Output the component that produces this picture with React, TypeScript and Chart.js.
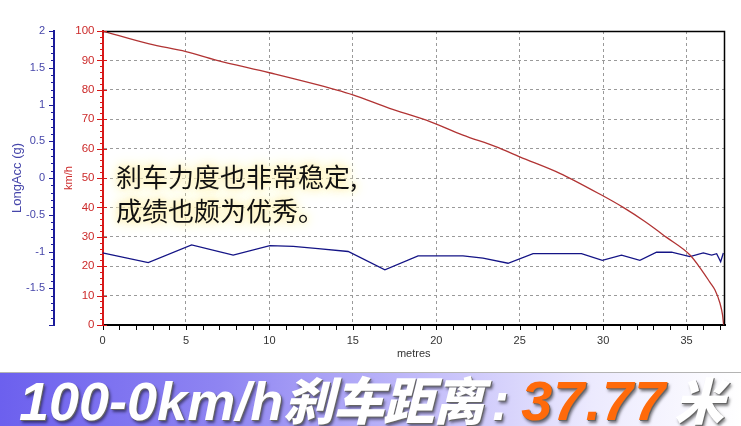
import React, { useEffect, useRef } from 'react';
import { Chart, registerables } from 'chart.js';

Chart.register(...registerables);

// ---- data ----
const distSpeed = [0, 2.8, 5, 6.8, 10, 14, 15, 17.2, 19.4, 21.6, 23.6, 25, 27.4, 29.9, 31.2, 32.5, 33.8, 35.2, 35.9, 36.4, 36.7, 37.0, 37.15, 37.22];
const speedKmh = [100, 95.6, 93, 90.1, 85.8, 80, 78.3, 73.7, 69.7, 64.6, 60.6, 57.2, 51.6, 44.2, 40, 35.2, 29.8, 23.8, 18.7, 14.5, 11.9, 7.4, 3.5, 0];

const distAcc = [0, 2.74, 5.34, 7.83, 10.03, 11.43, 12.92, 14.72, 16.92, 18.91, 21.6, 22.8, 24.3, 25.8, 28.7, 29.95, 31.1, 32.2, 33.2, 34.1, 35.2, 36.0, 36.5, 36.8, 37.04, 37.2];
const accG = [-1.02, -1.15, -0.91, -1.05, -0.92, -0.93, -0.96, -1.0, -1.25, -1.06, -1.06, -1.09, -1.16, -1.03, -1.03, -1.12, -1.05, -1.12, -1.01, -1.01, -1.07, -1.02, -1.05, -1.03, -1.14, -1.02];

const xTicks = [0, 5, 10, 15, 20, 25, 30, 35];
const xMax = 37.3;
const speedTicks = [0, 10, 20, 30, 40, 50, 60, 70, 80, 90, 100];
const accTicks = [-2, -1.5, -1, -0.5, 0, 0.5, 1, 1.5, 2];
const accTickLabels = ['', '-1.5', '-1', '-0.5', '0', '0.5', '1', '1.5', '2'];

const xTitle = 'metres';
const speedTitle = 'km/h';
const accTitle = 'LongAcc (g)';
const noteLines = ['刹车力度也非常稳定,', '成绩也颇为优秀。'];
const bannerPrefix = '100-0km/h';
const bannerCn = '刹车距离';
const bannerColon = ':';
const bannerValue = '37.77';
const bannerUnit = '米';

const RED = '#d81818';
const RED_LABEL = '#cc2a2a';
const BLUE = '#1c1c9a';
const BLUE_LABEL = '#4646aa';
const FONT = '"Liberation Sans", Arial, sans-serif';

const framePlugin = {
  id: 'frame',
  afterDraw(chart: any) {
    const { ctx, chartArea: a, scales } = chart;
    const x = scales.x;
    const y = scales.y;
    const y1 = scales.y1;
    ctx.save();
    ctx.strokeStyle = '#000';
    ctx.lineWidth = 1.5;
    ctx.beginPath();
    ctx.moveTo(a.left, a.top + 0.5);
    ctx.lineTo(a.right - 0.5, a.top + 0.5);
    ctx.lineTo(a.right - 0.5, a.bottom);
    ctx.stroke();

    // x axis minor ticks
    ctx.lineWidth = 1;
    ctx.beginPath();
    for (let v = 0; v <= xMax; v += 1) {
      const px = Math.round(x.getPixelForValue(v)) + 0.5;
      ctx.moveTo(px, a.bottom);
      ctx.lineTo(px, a.bottom + 5);
    }
    ctx.stroke();

    // red axis ticks
    const rx = Math.round(y.right);
    ctx.strokeStyle = RED;
    ctx.beginPath();
    for (let v = 0; v <= 100; v += 2) {
      const py = Math.round(y.getPixelForValue(v)) + 0.5;
      if (v % 10 === 0) {
        ctx.moveTo(rx - 6, py);
        ctx.lineTo(rx + 4, py);
      } else {
        ctx.moveTo(rx - 3, py);
        ctx.lineTo(rx, py);
      }
    }
    ctx.stroke();

    // blue axis ticks
    const bx = Math.round(y1.right);
    ctx.strokeStyle = BLUE;
    ctx.beginPath();
    for (let i = -20; i <= 20; i++) {
      const py = Math.round(y1.getPixelForValue(i / 10)) + 0.5;
      const len = i % 5 === 0 ? 5 : 3;
      ctx.moveTo(bx - len, py);
      ctx.lineTo(bx, py);
    }
    ctx.stroke();
    ctx.restore();
  },
};

function ChartCanvas() {
  const ref = useRef<HTMLCanvasElement | null>(null);
  useEffect(() => {
    if (!ref.current) return;
    const chart = new Chart(ref.current, {
      type: 'line',
      data: {
        datasets: [
          {
            label: 'speed',
            data: distSpeed.map((d, i) => ({ x: d, y: speedKmh[i] })),
            yAxisID: 'y',
            borderColor: '#b13434',
            borderWidth: 1.3,
            pointRadius: 0,
            cubicInterpolationMode: 'monotone',
            order: 1,
          },
          {
            label: 'acc',
            data: distAcc.map((d, i) => ({ x: d, y: accG[i] })),
            yAxisID: 'y1',
            borderColor: '#141486',
            borderWidth: 1.3,
            pointRadius: 0,
            tension: 0,
            order: 2,
          },
        ],
      },
      options: {
        animation: false,
        responsive: false,
        devicePixelRatio: 1,
        layout: { padding: { top: 31, right: 16, left: 0, bottom: 0 } },
        plugins: { legend: { display: false }, tooltip: { enabled: false } },
        scales: {
          x: {
            type: 'linear',
            min: 0,
            max: xMax,
            afterBuildTicks: (s: any) => {
              s.ticks = xTicks.map((v) => ({ value: v }));
            },
            afterFit: (s: any) => {
              s.height = 47;
            },
            ticks: { color: '#333', font: { family: FONT, size: 11 }, padding: 9, maxRotation: 0 },
            grid: {
              drawTicks: false,
              color: (c: any) => (c.tick && c.tick.value === 0 ? 'rgba(0,0,0,0)' : '#9a9a9a'),
              lineWidth: 1,
            },
            border: { color: '#000', width: 2, dash: [3, 3] },
            title: { display: true, text: xTitle, color: '#333', font: { family: FONT, size: 11 }, padding: { top: 0, bottom: 11 } },
          },
          y: {
            type: 'linear',
            position: 'left',
            weight: 0,
            min: 0,
            max: 100,
            afterBuildTicks: (s: any) => {
              s.ticks = speedTicks.map((v) => ({ value: v }));
            },
            afterFit: (s: any) => {
              s.width = 48.5;
            },
            ticks: { color: RED_LABEL, font: { family: FONT, size: 11.5 }, padding: 8 },
            grid: {
              drawTicks: false,
              color: (c: any) => (c.tick && (c.tick.value === 0 || c.tick.value === 100) ? 'rgba(0,0,0,0)' : '#9a9a9a'),
              lineWidth: 1,
            },
            border: { color: RED, width: 2, dash: [3, 3] },
            title: { display: true, text: speedTitle, color: RED_LABEL, font: { family: FONT, size: 11 }, padding: { top: 8, bottom: 0 } },
          },
          y1: {
            type: 'linear',
            position: 'left',
            weight: 1,
            min: -2,
            max: 2,
            afterBuildTicks: (s: any) => {
              s.ticks = accTicks.map((v) => ({ value: v }));
            },
            afterFit: (s: any) => {
              s.width = 54;
            },
            ticks: {
              color: BLUE_LABEL,
              font: { family: FONT, size: 11 },
              padding: 9,
              callback: (v: any) => {
                const i = accTicks.indexOf(Number(v));
                return i >= 0 ? accTickLabels[i] : '';
              },
            },
            grid: { display: true, drawOnChartArea: false, drawTicks: false },
            border: { color: BLUE, width: 2 },
            title: { display: true, text: accTitle, color: BLUE_LABEL, font: { family: FONT, size: 13 }, padding: { top: 10, bottom: 0 } },
          },
        },
      },
      plugins: [framePlugin],
    } as any);
    return () => chart.destroy();
  }, []);
  return <canvas ref={ref} width={741} height={372} style={{ display: 'block' }} />;
}

export default function App() {
  const whiteShadow = '1px 1px 0 #666, 2px 3px 3px rgba(0,0,0,0.5)';
  return (
    <div style={{ position: 'absolute', left: 0, top: 0, width: 741, height: 426, background: '#fff', overflow: 'hidden' }}>
      <ChartCanvas />
      <div
        style={{
          position: 'absolute',
          left: 116,
          top: 159,
          fontFamily: '"Noto Sans CJK SC", sans-serif',
          fontSize: 26,
          lineHeight: '34px',
          color: '#111',
          whiteSpace: 'nowrap',
          textShadow: '0 0 4px #fff4c4, 0 0 8px #fff4c4, 0 0 12px #fff0b0, 0 0 16px #fff0b0',
        }}
      >
        {noteLines.map((l, i) => (
          <div key={i}>{l}</div>
        ))}
      </div>
      <div
        style={{
          position: 'absolute',
          left: 0,
          top: 372,
          width: 741,
          height: 54,
          borderTop: '1px solid #b4b4b4',
          background: 'linear-gradient(to right, #6c60ee 0%, #8f85f2 30%, #c4befa 58%, #eceafe 80%, #ffffff 100%)',
          overflow: 'hidden',
        }}
      >
        <div
          style={{
            position: 'absolute',
            left: 19,
            top: -2,
            whiteSpace: 'nowrap',
            fontFamily: '"Liberation Sans", Arial, "Noto Sans CJK SC", sans-serif',
            fontWeight: 900,
            fontStyle: 'italic',
            fontSize: 54,
            lineHeight: '54px',
            color: '#fff',
            textShadow: whiteShadow,
          }}
        >
          <span>{bannerPrefix}</span>
          <span style={{ fontFamily: '"Noto Sans CJK SC", sans-serif', fontSize: 51, letterSpacing: -1 }}>{bannerCn}</span>
          <span style={{ marginLeft: 8, marginRight: 12 }}>{bannerColon}</span>
          <span style={{ color: '#ff6a0a', fontSize: 56, letterSpacing: 1 }}>{bannerValue}</span>
          <span style={{ fontFamily: '"Noto Sans CJK SC", sans-serif', fontSize: 50, marginLeft: 8 }}>{bannerUnit}</span>
        </div>
      </div>
    </div>
  );
}
